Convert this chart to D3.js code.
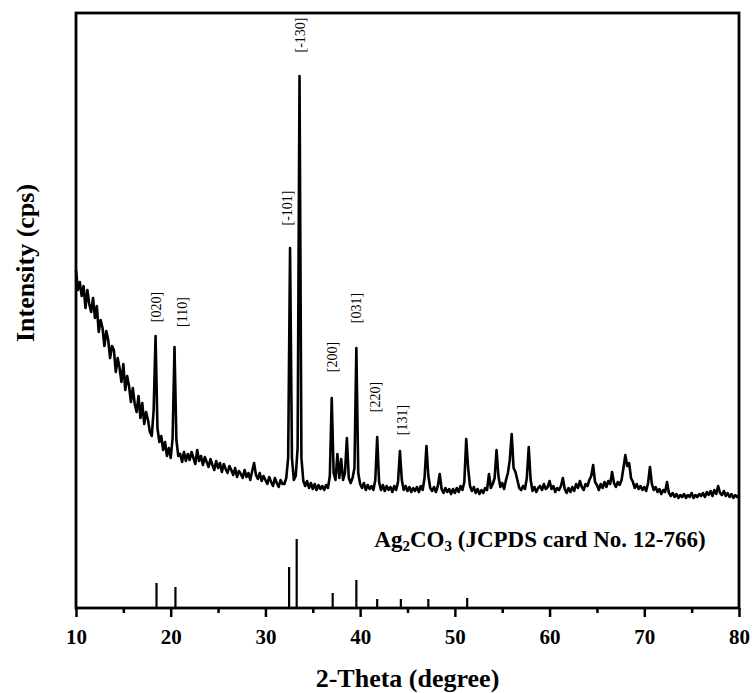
<!DOCTYPE html>
<html lang="en">
<head>
    <meta charset="UTF-8">
    <title>Ag2CO3 XRD</title>
    <style>
        body { margin: 0; background: #fff; }
        svg { display: block; }
        text { font-family: "Liberation Serif", "Times New Roman", serif; fill: #000; }
        .tick text { font-size: 21px; font-weight: bold; }
        .hkl { font-size: 14px; }
    </style>
</head>
<body>
<script src="https://d3js.org/d3.v7.min.js"></script>
<svg id="chart"></svg>
<script>
    // measured pattern: 2-theta from 10 to 80, step 0.2 deg (relative cps)
    var start = 10, step = 0.2;
    var counts = [
        338, 318, 326, 312, 322, 300, 318, 304, 296, 310,
        290, 302, 276, 288, 280, 262, 277, 268, 250, 262,
        258, 236, 250, 240, 226, 244, 218, 232, 222, 206,
        220, 204, 196, 212, 190, 205, 184, 196, 188, 176,
        172, 198, 272, 180, 166, 172, 158, 166, 152, 160,
        150, 170, 261, 168, 152, 154, 146, 156, 147, 154,
        148, 156, 150, 144, 158, 147, 152, 143, 151, 146,
        141, 149, 143, 138, 147, 140, 145, 136, 144, 139,
        135, 142, 138, 133, 140, 131, 137, 134, 130, 138,
        131, 135, 128, 137, 145, 133, 129, 135, 127, 132,
        128, 124, 131, 126, 122, 130, 125, 121, 128, 124,
        124, 130, 150, 360, 150, 128, 132, 160, 532, 150,
        127, 122, 127, 120, 125, 119, 124, 118, 123, 119,
        122, 118, 123, 120, 132, 210, 135, 128, 154, 130,
        149, 128, 135, 170, 130, 125, 130, 140, 260, 135,
        124, 120, 125, 118, 123, 119, 122, 118, 128, 171,
        126, 118, 123, 117, 122, 118, 121, 116, 122, 118,
        126, 157, 128, 118, 122, 117, 121, 116, 120, 117,
        121, 116, 122, 118, 130, 162, 132, 120, 117, 121,
        116, 122, 134, 119, 115, 120, 116, 119, 114, 119,
        115, 120, 116, 122, 118, 126, 169, 140, 122, 117,
        121, 115, 119, 114, 118, 115, 120, 118, 134, 120,
        124, 130, 158, 132, 121, 125, 119, 128, 135, 148,
        174, 140, 136, 128, 120, 118, 122, 119, 130, 161,
        128, 117, 121, 116, 120, 122, 118, 124, 119, 121,
        127, 119, 122, 116, 120, 118, 122, 130, 119, 115,
        120, 116, 121, 117, 124, 120, 127, 121, 118, 124,
        122, 128, 132, 143, 126, 123, 118, 124, 120, 126,
        121, 127, 124, 136, 125, 121, 126, 123, 128, 140,
        153, 142, 145, 130, 126, 120, 124, 119, 122, 118,
        121, 117, 125, 141, 124, 118, 121, 116, 119, 114,
        118, 116, 126, 115, 112, 115, 111, 114, 110, 113,
        111, 114, 110, 113, 111, 115, 110, 113, 111, 114,
        112, 115, 111, 116, 113, 117, 112, 118, 114, 122,
        115, 113, 117, 112, 115, 111, 114, 110, 113, 111,
        112
    ];

    // JCPDS 12-766 reference lines
    var refAngles = [18.5, 20.5, 32.5, 33.3, 37.1, 39.6, 41.8, 44.3, 47.2, 51.3];
    var refHeights = [25, 21, 41, 69, 15, 28, 9, 9, 9, 10];

    // peak labels: text, label centre (2-theta, intensity)
    var hklNames = ["[020]", "[110]", "[-101]", "[-130]", "[200]", "[031]", "[220]", "[131]"];
    var hklAngles = [18.45, 21.2, 32.3, 33.65, 37.0, 39.55, 41.6, 44.4];
    var hklLevels = [301, 296, 400, 573, 251, 300, 211, 188];

    var xTicks = [10, 20, 30, 40, 50, 60, 70, 80];
    var xMinor = [15, 25, 35, 45, 55, 65, 75];

    var W = 752, H = 693;
    var plotL = 76, plotR = 739, plotT = 13, plotB = 608;

    var svg = d3.select("#chart").attr("width", W).attr("height", H);

    var x = d3.scaleLinear().domain([10, 80]).range([plotL, plotR]);
    var y = d3.scaleLinear().domain([0, 595]).range([plotB, plotT]);

    var pattern = counts.map(function (c, i) {
        return { t: start + i * step, c: c };
    });

    // minor ticks
    svg.append("g")
        .attr("transform", "translate(0," + plotB + ")")
        .call(d3.axisBottom(x).tickValues(xMinor).tickSize(5).tickFormat(""))
        .call(function (g) { g.select(".domain").remove(); })
        .selectAll("line").attr("stroke-width", 2.5);

    // major ticks
    svg.append("g")
        .attr("transform", "translate(0," + plotB + ")")
        .call(d3.axisBottom(x).tickValues(xTicks).tickSize(9).tickPadding(12).tickFormat(d3.format("d")))
        .call(function (g) { g.select(".domain").remove(); })
        .selectAll("line").attr("stroke-width", 2.5);

    // reference sticks
    svg.append("g").selectAll("line")
        .data(refAngles)
        .enter().append("line")
        .attr("x1", function (d) { return x(d); })
        .attr("x2", function (d) { return x(d); })
        .attr("y1", y(0))
        .attr("y2", function (d, i) { return y(refHeights[i]); })
        .attr("stroke", "#000")
        .attr("stroke-width", 2.2);

    // measured pattern
    var line = d3.line()
        .x(function (d) { return x(d.t); })
        .y(function (d) { return y(d.c); });

    svg.append("path")
        .datum(pattern)
        .attr("d", line)
        .attr("fill", "none")
        .attr("stroke", "#000")
        .attr("stroke-width", 2.6)
        .attr("stroke-linejoin", "round");

    // frame
    svg.append("rect")
        .attr("x", plotL)
        .attr("y", plotT)
        .attr("width", plotR - plotL)
        .attr("height", plotB - plotT)
        .attr("fill", "none")
        .attr("stroke", "#000")
        .attr("stroke-width", 2.8);

    // hkl labels
    svg.append("g").selectAll("text")
        .data(hklNames)
        .enter().append("text")
        .attr("class", "hkl")
        .attr("text-anchor", "middle")
        .attr("dy", "0.35em")
        .attr("transform", function (d, i) {
            return "translate(" + x(hklAngles[i]) + "," + y(hklLevels[i]) + ") rotate(-90)";
        })
        .text(function (d) { return d; });

    // card label
    var card = svg.append("text")
        .attr("x", x(41.5))
        .attr("y", y(61))
        .attr("font-size", 23)
        .attr("font-weight", "bold");
    card.append("tspan").text("Ag");
    card.append("tspan").attr("font-size", 15).attr("dy", 4).text("2");
    card.append("tspan").attr("dy", -4).text("CO");
    card.append("tspan").attr("font-size", 15).attr("dy", 4).text("3");
    card.append("tspan").attr("dy", -4).text(" (JCPDS card No. 12-766)");

    // axis titles
    svg.append("text")
        .attr("x", (plotL + plotR) / 2)
        .attr("y", 687)
        .attr("text-anchor", "middle")
        .attr("font-size", 26)
        .attr("font-weight", "bold")
        .text("2-Theta (degree)");

    svg.append("text")
        .attr("transform", "translate(34,263) rotate(-90)")
        .attr("text-anchor", "middle")
        .attr("font-size", 26)
        .attr("font-weight", "bold")
        .text("Intensity (cps)");
</script>
</body>
</html>
